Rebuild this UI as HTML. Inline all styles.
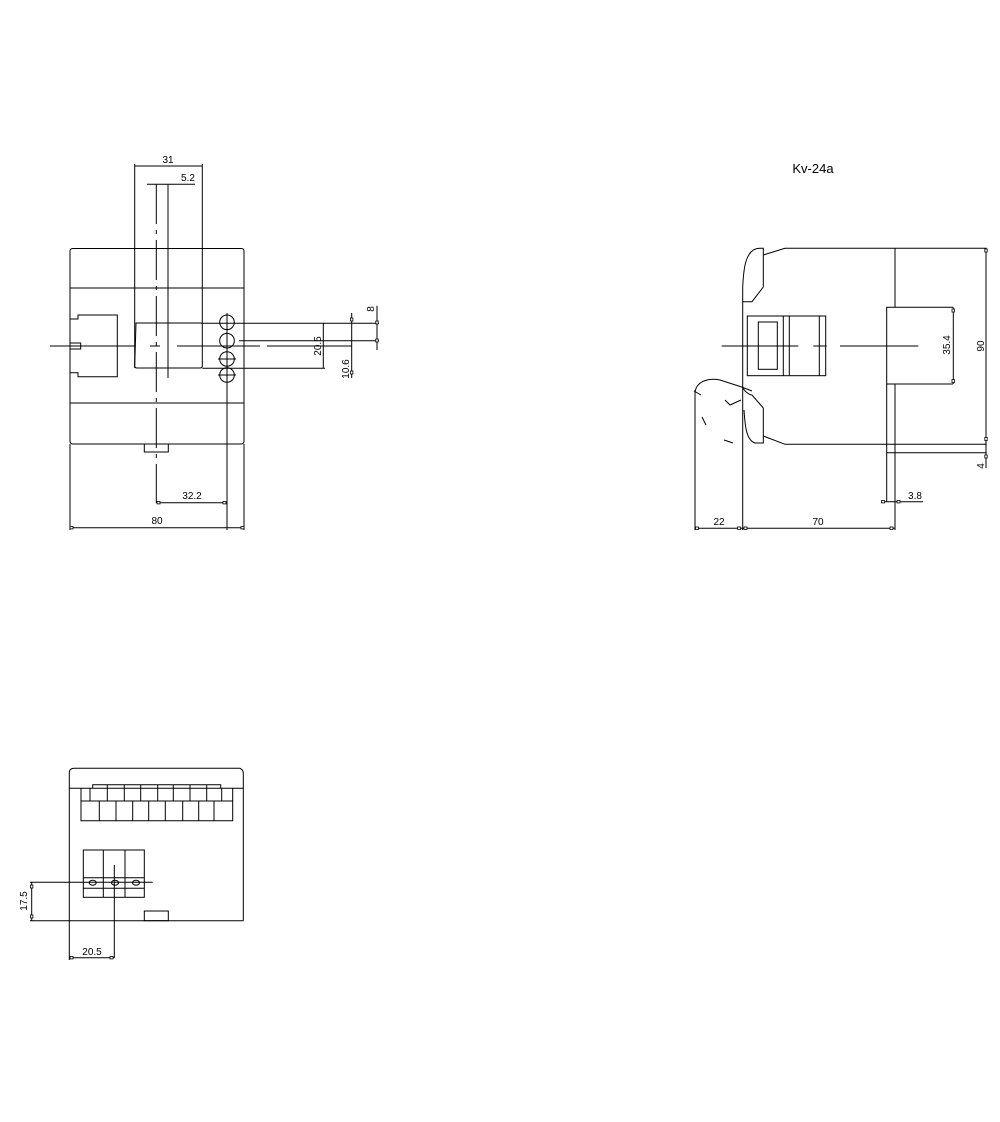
<!DOCTYPE html>
<html><head><meta charset="utf-8"><style>
html,body{margin:0;padding:0;background:#fff;}
svg{display:block;}
text{font-family:"Liberation Sans",sans-serif;font-size:10px;fill:#000;}
</style></head><body>
<svg width="1000" height="1122" viewBox="0 0 1000 1122" xmlns="http://www.w3.org/2000/svg">
<g fill="none" stroke="#000" stroke-width="1">
<!-- FRONT VIEW -->
<path d="M70,251 Q70,248.5 73,248.5 L241,248.5 Q244,248.5 244,251 L244,441 Q244,444 241,444 L73,444 Q70,444 70,441 Z"/>
<line x1="70" y1="288" x2="244" y2="288"/>
<line x1="70" y1="403" x2="244" y2="403"/>
<line x1="134.7" y1="164" x2="134.7" y2="368"/>
<line x1="202.3" y1="164" x2="202.3" y2="323"/>
<path d="M136,323 L201,323 Q202.3,323 202.3,325 L202.3,366 Q202.3,368 200,368 L137,368 Q134.7,368 134.7,366 Z"/>
<line x1="134.7" y1="166" x2="202.3" y2="166"/>
<line x1="147" y1="184.3" x2="195" y2="184.3"/>
<line x1="156.3" y1="184" x2="156.3" y2="503" stroke-dasharray="40,6,4,6"/>
<line x1="168" y1="184" x2="168" y2="378"/>
<path d="M70,319 L78,319 L78,315 L117.3,315 L117.3,376.7 L78,376.7 L78,372.7 L70,372.7"/>
<rect x="70" y="343" width="10.7" height="6"/>
<line x1="50" y1="346" x2="135" y2="346"/>
<line x1="150" y1="346" x2="160" y2="346"/>
<line x1="177" y1="346" x2="260" y2="346"/>
<line x1="267" y1="346" x2="351.7" y2="346"/>
<circle cx="227" cy="322.3" r="7.3"/>
<circle cx="227" cy="340.7" r="7.3"/>
<circle cx="227" cy="359" r="7.3"/>
<circle cx="227" cy="375" r="7.3"/>
<line x1="227" y1="313" x2="227" y2="530"/>
<line x1="218" y1="359" x2="236" y2="359"/>
<line x1="218" y1="375" x2="236" y2="375"/>
<line x1="202.3" y1="323.3" x2="379" y2="323.3"/>
<line x1="239" y1="340.7" x2="379" y2="340.7"/>
<line x1="202.3" y1="368.3" x2="325" y2="368.3"/>
<line x1="323.3" y1="323.3" x2="323.3" y2="368.3"/>
<line x1="351.7" y1="313" x2="351.7" y2="378"/>
<line x1="377" y1="305.7" x2="377" y2="350"/>
<line x1="156.3" y1="502.7" x2="227" y2="502.7"/>
<line x1="70" y1="444" x2="70" y2="530"/>
<line x1="244" y1="444" x2="244" y2="530"/>
<line x1="70" y1="527.7" x2="244" y2="527.7"/>
<rect x="144.3" y="444" width="24" height="8"/>
<!-- SIDE VIEW -->
<path d="M742.7,301.7 L742.7,287 C743.5,270 745,248.3 760,248.3 L763.3,248.3 L763.3,287 L752,301.7 Z"/>
<path d="M763.3,255 L785,248.3 L895,248.3"/>
<line x1="895" y1="248.3" x2="986.7" y2="248.3"/>
<line x1="895" y1="248.3" x2="895" y2="307.3"/>
<path d="M953,307.3 L886.7,307.3 L886.7,384 L953,384"/>
<line x1="953.3" y1="307.3" x2="953.3" y2="384"/>
<line x1="886.7" y1="384" x2="886.7" y2="501.7"/>
<line x1="895" y1="384" x2="895" y2="530"/>
<path d="M763.3,436 L785,444.3 L986.7,444.3"/>
<line x1="886.7" y1="452.7" x2="986.7" y2="452.7"/>
<path d="M743,388 C745,392 750,395 752,395 L763.3,408 L763.3,443 L755,443 C746,440 745,425 744,410"/>
<path d="M695,392 C697,380 710,378 720,380 L741.7,387 L752,391"/>
<path d="M694,391 L701,395 M725,400 L730,405 L741,400 M702,417 L706,425 M724,440 L733,443"/>
<line x1="742.7" y1="301.7" x2="742.7" y2="530"/>
<line x1="695" y1="390" x2="695" y2="530"/>
<rect x="747.3" y="316" width="78.4" height="59.7"/>
<rect x="758.3" y="322" width="19" height="47.3"/>
<line x1="783.3" y1="316" x2="783.3" y2="375.7"/>
<line x1="789.3" y1="316" x2="789.3" y2="375.7"/>
<line x1="819.3" y1="316" x2="819.3" y2="375.7"/>
<line x1="721.7" y1="346" x2="798.3" y2="346"/>
<line x1="813.3" y1="346" x2="826.7" y2="346"/>
<line x1="840" y1="346" x2="918.3" y2="346"/>
<line x1="986" y1="248.3" x2="986" y2="468"/>
<line x1="881.7" y1="501.7" x2="923" y2="501.7"/>
<line x1="695" y1="528.3" x2="895" y2="528.3"/>
<!-- BOTTOM VIEW -->
<path d="M69.3,788.3 L69.3,772 Q70,768.3 74,768.3 L240,768.3 Q243.3,770 243.3,773 L243.3,788.3 Z"/>
<line x1="69.3" y1="788.3" x2="69.3" y2="920.7"/>
<line x1="243.3" y1="788.3" x2="243.3" y2="920.7"/>
<line x1="69.3" y1="920.7" x2="243.3" y2="920.7"/>
<path d="M81,788.3 L81,820.7 L232.7,820.7 L232.7,788.3"/>
<path d="M92.7,788.3 L92.7,784.7 L220.7,784.7 L220.7,788.3"/>
<line x1="81" y1="801" x2="232.7" y2="801"/>
<g>
<line x1="90" y1="788.3" x2="90" y2="801"/><line x1="107.3" y1="785" x2="107.3" y2="801"/>
<line x1="124.3" y1="785" x2="124.3" y2="801"/><line x1="140.7" y1="785" x2="140.7" y2="801"/>
<line x1="157.7" y1="785" x2="157.7" y2="801"/><line x1="173.3" y1="785" x2="173.3" y2="801"/>
<line x1="190" y1="785" x2="190" y2="801"/><line x1="206.7" y1="785" x2="206.7" y2="801"/>
<line x1="221.7" y1="788.3" x2="221.7" y2="801"/>
<line x1="99.3" y1="801" x2="99.3" y2="820.7"/><line x1="116" y1="801" x2="116" y2="820.7"/>
<line x1="132.7" y1="801" x2="132.7" y2="820.7"/><line x1="148.7" y1="801" x2="148.7" y2="820.7"/>
<line x1="165.3" y1="801" x2="165.3" y2="820.7"/><line x1="182.7" y1="801" x2="182.7" y2="820.7"/>
<line x1="198.7" y1="801" x2="198.7" y2="820.7"/><line x1="214" y1="801" x2="214" y2="820.7"/>
</g>
<rect x="83.3" y="850" width="61" height="47.3"/>
<line x1="103.3" y1="850" x2="103.3" y2="897.3"/>
<line x1="125" y1="850" x2="125" y2="897.3"/>
<line x1="83.3" y1="877.7" x2="144.3" y2="877.7"/>
<line x1="83.3" y1="888.3" x2="144.3" y2="888.3"/>
<ellipse cx="92.7" cy="882.7" rx="3.5" ry="2.5"/>
<ellipse cx="115" cy="882.7" rx="3.5" ry="2.5"/>
<ellipse cx="136" cy="882.7" rx="3.5" ry="2.5"/>
<line x1="30" y1="882.3" x2="152.7" y2="882.3"/>
<line x1="114.3" y1="865" x2="114.3" y2="958"/>
<rect x="144.3" y="911" width="24" height="9.7"/>
<line x1="31.7" y1="882.3" x2="31.7" y2="920.7"/>
<line x1="30" y1="920.7" x2="69.3" y2="920.7"/>
<line x1="69.3" y1="920.7" x2="69.3" y2="960"/>
<line x1="69.3" y1="957.7" x2="114.3" y2="957.7"/>
</g>
<!-- dim tick marks -->
<g fill="#fff" stroke="#000" stroke-width="0.8">
<rect x="70" y="526.5" width="3" height="2.4"/><rect x="241" y="526.5" width="3" height="2.4"/>
<rect x="157" y="501.5" width="3" height="2.4"/><rect x="223" y="501.5" width="3" height="2.4"/>
<rect x="350.5" y="318" width="2.4" height="3"/><rect x="350.5" y="371" width="2.4" height="3"/>
<rect x="375.8" y="321" width="2.4" height="3"/><rect x="375.8" y="339" width="2.4" height="3"/>
<rect x="984.8" y="249" width="2.4" height="3"/><rect x="984.8" y="437.5" width="2.4" height="3"/>
<rect x="984.8" y="455" width="2.4" height="3"/>
<rect x="952" y="309" width="2.4" height="3"/><rect x="952" y="379.5" width="2.4" height="3"/>
<rect x="695.5" y="527" width="3" height="2.4"/><rect x="737.5" y="527" width="3" height="2.4"/>
<rect x="744" y="527" width="3" height="2.4"/><rect x="890" y="527" width="3" height="2.4"/>
<rect x="881.5" y="500.5" width="3" height="2.4"/><rect x="897" y="500.5" width="3" height="2.4"/>
<rect x="30.5" y="885" width="2.4" height="3"/><rect x="30.5" y="915" width="2.4" height="3"/>
<rect x="70" y="956.5" width="3" height="2.4"/><rect x="110" y="956.5" width="3" height="2.4"/>
</g>
<text x="168" y="163" text-anchor="middle">31</text>
<text x="188" y="181" text-anchor="middle">5.2</text>
<text x="192" y="499" text-anchor="middle">32.2</text>
<text x="157" y="524" text-anchor="middle">80</text>
<text transform="translate(321,346) rotate(-90)" text-anchor="middle">20.5</text>
<text transform="translate(349,369) rotate(-90)" text-anchor="middle">10.6</text>
<text transform="translate(374,309) rotate(-90)" text-anchor="middle">8</text>
<text x="813" y="173" text-anchor="middle" style="font-size:13px">Kv-24a</text>
<text transform="translate(950,345) rotate(-90)" text-anchor="middle">35.4</text>
<text transform="translate(984,346) rotate(-90)" text-anchor="middle">90</text>
<text transform="translate(984,466) rotate(-90)" text-anchor="middle">4</text>
<text x="915" y="499" text-anchor="middle">3.8</text>
<text x="719" y="525" text-anchor="middle">22</text>
<text x="818" y="525" text-anchor="middle">70</text>
<text transform="translate(27,901) rotate(-90)" text-anchor="middle">17.5</text>
<text x="92" y="955" text-anchor="middle">20.5</text>
</svg>
</body></html>
